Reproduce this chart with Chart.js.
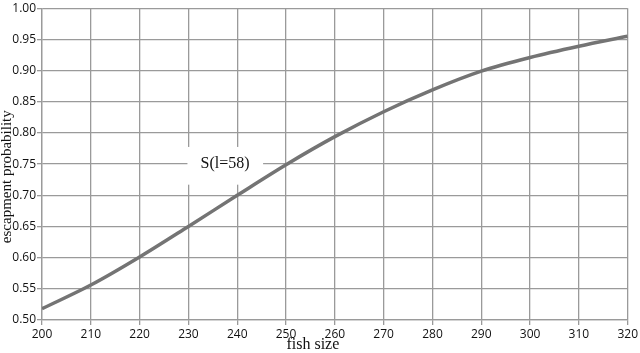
<!DOCTYPE html>
<html>
<head>
<meta charset="utf-8">
<script src="https://cdn.jsdelivr.net/npm/chart.js@4"></script>
<style>
  html, body { margin: 0; padding: 0; background: #fff; }
  #wrap { width: 640px; height: 353px; }
</style>
</head>
<body>
<div id="wrap"><canvas id="c" width="640" height="353"></canvas></div>
<script>
// fish size (mm) and escapement probability
const sizes = [200, 210, 220, 230, 240, 250, 260, 270, 280, 290, 300, 310, 320];
const probs = [0.518, 0.556, 0.601, 0.650, 0.700, 0.749, 0.794, 0.834, 0.869, 0.899, 0.921, 0.939, 0.955];

const yTicks = [0.50, 0.55, 0.60, 0.65, 0.70, 0.75, 0.80, 0.85, 0.90, 0.95, 1.00];

// curve label, in data units
const noteText = 'S(l=58)';
const noteAt = [237.5, 0.7505];
const noteBox = [229.8, 245.3, 0.7775, 0.717];

const gridGrey = '#9a9a9a';
const serif = '"Liberation Serif", serif';

const labelPlugin = {
  id: 'curveLabel',
  beforeDatasetsDraw(chart) {
    const { ctx, scales: { x, y } } = chart;
    const x0 = x.getPixelForValue(noteBox[0]), x1 = x.getPixelForValue(noteBox[1]);
    const y0 = y.getPixelForValue(noteBox[2]), y1 = y.getPixelForValue(noteBox[3]);
    ctx.save();
    ctx.fillStyle = '#fff';
    ctx.fillRect(x0, y0, x1 - x0, y1 - y0);
    ctx.fillStyle = '#111';
    ctx.font = '16px ' + serif;
    ctx.textAlign = 'center';
    ctx.textBaseline = 'middle';
    ctx.fillText(noteText, x.getPixelForValue(noteAt[0]), y.getPixelForValue(noteAt[1]));
    ctx.restore();
  },
  afterDraw(chart) {
    // axis titles sit a bit off the plot centre in the original
    const { ctx, scales: { x, y } } = chart;
    ctx.save();
    ctx.fillStyle = '#111';
    ctx.font = '16px ' + serif;
    ctx.textAlign = 'center';
    ctx.textBaseline = 'bottom';
    ctx.fillText('fish size', x.getPixelForValue(255.5), 353);

    ctx.font = '15px ' + serif;
    ctx.textBaseline = 'middle';
    ctx.translate(7, y.getPixelForValue(0.7298));
    ctx.rotate(-Math.PI / 2);
    ctx.fillText('escapment probability', 0, 0);
    ctx.restore();
  }
};

new Chart(document.getElementById('c'), {
  type: 'line',
  data: {
    labels: sizes,
    datasets: [{
      data: sizes.map((s, i) => ({ x: s, y: probs[i] })),
      borderColor: '#747474',
      borderWidth: 3.5,
      pointRadius: 0,
      fill: false,
      cubicInterpolationMode: 'monotone',
    }],
  },
  options: {
    responsive: false,
    animation: false,
    layout: { padding: { left: 0, right: 12, top: 6, bottom: 0 } },
    plugins: { legend: { display: false }, tooltip: { enabled: false } },
    scales: {
      x: {
        type: 'linear', min: 200, max: 320,
        afterFit: s => { s.height = 33; },
        ticks: {
          stepSize: 10, padding: 2, color: '#111',
          font: { family: '"Open Sans", sans-serif', size: 12 },
        },
        grid: { color: gridGrey, lineWidth: 1.3, tickLength: 5 },
        border: { color: gridGrey, width: 1.3 },
      },
      y: {
        min: 0.5, max: 1.0,
        afterFit: s => { s.width = 42; },
        afterBuildTicks: s => { s.ticks = yTicks.map(v => ({ value: v })); },
        ticks: {
          padding: 1, color: '#111',
          callback: v => v.toFixed(2),
          font: { family: '"Open Sans", sans-serif', size: 12 },
        },
        grid: { color: gridGrey, lineWidth: 1.3, tickLength: 5 },
        border: { color: gridGrey, width: 1.3 },
      },
    },
  },
  plugins: [labelPlugin],
});
</script>
</body>
</html>
